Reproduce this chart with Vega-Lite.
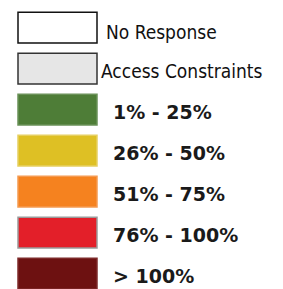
{
  "$schema": "https://vega.github.io/schema/vega-lite/v6.json",
  "width": 283,
  "height": 289,
  "autosize": "none",
  "padding": 0,
  "background": "white",
  "config": {"view": {"stroke": null}},
  "data": {
    "values": [
      {"label": "No Response", "kind": "plain"},
      {"label": "Access Constraints", "kind": "plain"},
      {"label": "1% - 25%", "kind": "pct"},
      {"label": "26% - 50%", "kind": "pct"},
      {"label": "51% - 75%", "kind": "pct"},
      {"label": "76% - 100%", "kind": "pct"},
      {"label": "> 100%", "kind": "pct"}
    ]
  },
  "encoding": {
    "y": {
      "field": "label",
      "type": "nominal",
      "sort": null,
      "axis": null,
      "scale": {
        "type": "band",
        "domain": ["No Response", "Access Constraints", "1% - 25%", "26% - 50%", "51% - 75%", "76% - 100%", "> 100%"],
        "paddingInner": 0.25,
        "paddingOuter": 0.149,
        "align": 1
      }
    }
  },
  "layer": [
    {
      "mark": {"type": "rect", "strokeWidth": 1.5},
      "encoding": {
        "x": {"datum": 18, "type": "quantitative", "scale": {"domain": [0, 283], "nice": false, "zero": false}, "axis": null},
        "x2": {"datum": 97},
        "fill": {
          "field": "label",
          "type": "nominal",
          "legend": null,
          "scale": {
            "domain": ["No Response", "Access Constraints", "1% - 25%", "26% - 50%", "51% - 75%", "76% - 100%", "> 100%"],
            "range": ["#ffffff", "#e6e6e6", "#4e7d37", "#dec024", "#f5821f", "#e31f29", "#6d1111"]
          }
        },
        "stroke": {
          "field": "label",
          "type": "nominal",
          "legend": null,
          "scale": {
            "domain": ["No Response", "Access Constraints", "1% - 25%", "26% - 50%", "51% - 75%", "76% - 100%", "> 100%"],
            "range": ["#111111", "#333333", "#6a9158", "#e6cf60", "#f59a50", "#9a9a9a", "#7d2a2a"]
          }
        }
      }
    },
    {
      "transform": [{"filter": "datum.label === 'No Response'"}],
      "mark": {"type": "text", "align": "left", "baseline": "middle", "dy": 5, "font": "DejaVu Sans Condensed", "fontSize": 19, "color": "#111111"},
      "encoding": {
        "x": {"datum": 106, "type": "quantitative"},
        "text": {"field": "label"}
      }
    },
    {
      "transform": [{"filter": "datum.label === 'Access Constraints'"}],
      "mark": {"type": "text", "align": "left", "baseline": "middle", "dy": 3, "font": "DejaVu Sans Condensed", "fontSize": 19, "color": "#111111"},
      "encoding": {
        "x": {"datum": 101, "type": "quantitative"},
        "text": {"field": "label"}
      }
    },
    {
      "transform": [{"filter": "datum.kind === 'pct'"}],
      "mark": {"type": "text", "align": "left", "baseline": "middle", "dy": 3, "font": "DejaVu Sans", "fontSize": 19, "fontWeight": "bold", "color": "#1a1a1a"},
      "encoding": {
        "x": {"datum": 113, "type": "quantitative"},
        "text": {"field": "label"}
      }
    }
  ]
}
